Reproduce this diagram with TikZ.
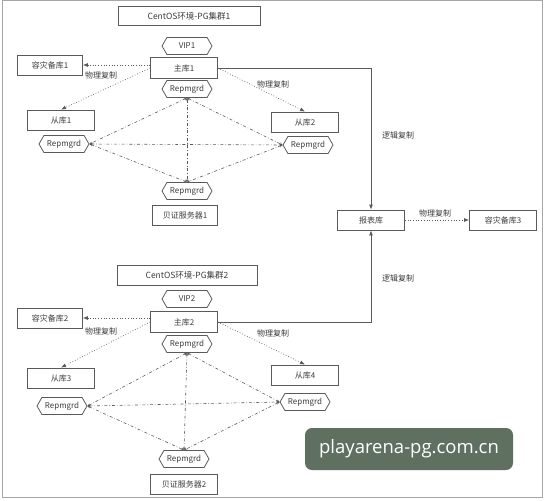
\documentclass[tikz,border=0pt]{standalone}
\usepackage{fontspec}
\setmainfont{Noto Sans CJK SC}
\newfontfamily\wmfont{Open Sans}
\usetikzlibrary{shapes.symbols,arrows.meta,calc}
\definecolor{ln}{RGB}{90,90,90}
\definecolor{txt}{RGB}{60,60,60}
\definecolor{wm}{RGB}{95,112,96}
\begin{document}
\begin{tikzpicture}[x=1pt,y=-1pt,
  box/.style={draw=ln, line width=0.8pt, minimum width=67pt, minimum height=20pt, inner sep=1pt, font=\fontsize{8}{9}\selectfont, text=txt},
  hexa/.style={draw=ln, line width=0.8pt, shape=signal, signal to=west and east, signal pointer angle=120, minimum width=50pt, minimum height=17pt, inner sep=1pt, font=\fontsize{8}{9}\selectfont, text=txt},
  lbl/.style={font=\fontsize{8}{9}\selectfont, text=txt, inner sep=1pt},
  phys/.style={draw=ln, line width=0.7pt, dotted, -{Latex[length=5pt,width=4pt]}},
  logic/.style={draw=ln, line width=0.8pt, -{Latex[length=5pt,width=4pt]}},
  hb/.style={draw=ln, line width=0.6pt, dash dot, {Stealth[length=3pt,width=2.5pt]}-{Stealth[length=3pt,width=2.5pt]}}
]
\useasboundingbox (0,0) rectangle (545,500);
\draw[gray!70, line width=1pt] (2,1) rectangle (542,497);

% cluster 1
\node[box, minimum width=142pt, minimum height=19pt, font=\fontsize{8.5}{9}\selectfont] (t1) at (189,16) {CentOS环境-PG集群1};
\node[hexa] (vip1) at (187,46) {VIP1};
\node[box, minimum height=21pt] (m1) at (184,68) {主库1};
\node[box, minimum width=65pt] (dr1) at (50,65) {容灾备库1};
\node[hexa] (r1t) at (187,89) {Repmgrd};
\node[box] (s1) at (61,120) {从库1};
\node[hexa] (r1l) at (64,144) {Repmgrd};
\node[box] (s2) at (305,122) {从库2};
\node[hexa] (r1r) at (308,145) {Repmgrd};
\node[hexa] (r1b) at (187,191) {Repmgrd};
\node[box, minimum width=65pt] (w1) at (185,215) {贝证服务器1};

% report
\node[box] (rep) at (371,220) {报表库};
\node[box] (dr3) at (503,220) {容灾备库3};

% cluster 2
\node[box, minimum width=140pt, font=\fontsize{8.5}{9}\selectfont] (t2) at (187,275) {CentOS环境-PG集群2};
\node[hexa] (vip2) at (187,299) {VIP2};
\node[box, minimum height=21pt] (m2) at (184,322) {主库2};
\node[box, minimum width=65pt] (dr2) at (50,318) {容灾备库2};
\node[hexa] (r2t) at (187,344) {Repmgrd};
\node[box] (s3) at (61,378) {从库3};
\node[hexa] (r2l) at (62,406) {Repmgrd};
\node[box] (s4) at (305,375) {从库4};
\node[hexa] (r2r) at (305,402) {Repmgrd};
\node[hexa] (r2b) at (184,459) {Repmgrd};
\node[box, minimum width=67pt] (w2) at (184,484) {贝证服务器2};

% physical replication
\draw[phys] (m1.west |- dr1.east) -- (dr1.east);
\node[lbl] at (101,75) {物理复制};
\draw[phys] (m1.west) -- (s1.north);
\draw[phys] (m1.east) -- (s2.north);
\node[lbl] at (273,84) {物理复制};

\draw[phys] (m2.west |- dr2.east) -- (dr2.east);
\node[lbl] at (101,331) {物理复制};
\draw[phys] (m2.west) -- (s3.north);
\draw[phys] (m2.east) -- (s4.north);
\node[lbl] at (273,333) {物理复制};

\draw[phys] (rep.east) -- (dr3.west);
\node[lbl] at (435,213) {物理复制};

% logical replication
\draw[logic] (m1.east) -| (rep.north);
\node[lbl, anchor=west] at (381,135) {逻辑复制};
\draw[logic] (m2.east) -| (rep.south);
\node[lbl, anchor=west] at (381,278) {逻辑复制};

% heartbeat mesh 1
\draw[hb] (r1t.south) -- (r1l.east);
\draw[hb] (r1t.south) -- (r1r.west);
\draw[hb] (r1t.south) -- (r1b.north);
\draw[hb] (r1l.east) -- (r1r.west);
\draw[hb] (r1l.east) -- (r1b.north);
\draw[hb] (r1r.west) -- (r1b.north);
% heartbeat mesh 2
\draw[hb] (r2t.south) -- (r2l.east);
\draw[hb] (r2t.south) -- (r2r.west);
\draw[hb] (r2t.south) -- (r2b.north);
\draw[hb] (r2l.east) -- (r2r.west);
\draw[hb] (r2l.east) -- (r2b.north);
\draw[hb] (r2r.west) -- (r2b.north);

% watermark
\node[fill=wm, rounded corners=7pt, minimum width=208pt, minimum height=42pt, text=white, font=\wmfont\fontsize{18.5}{22}\selectfont] (wmk) at (409,449) {playarena-pg.com.cn};
\end{tikzpicture}
\end{document}
